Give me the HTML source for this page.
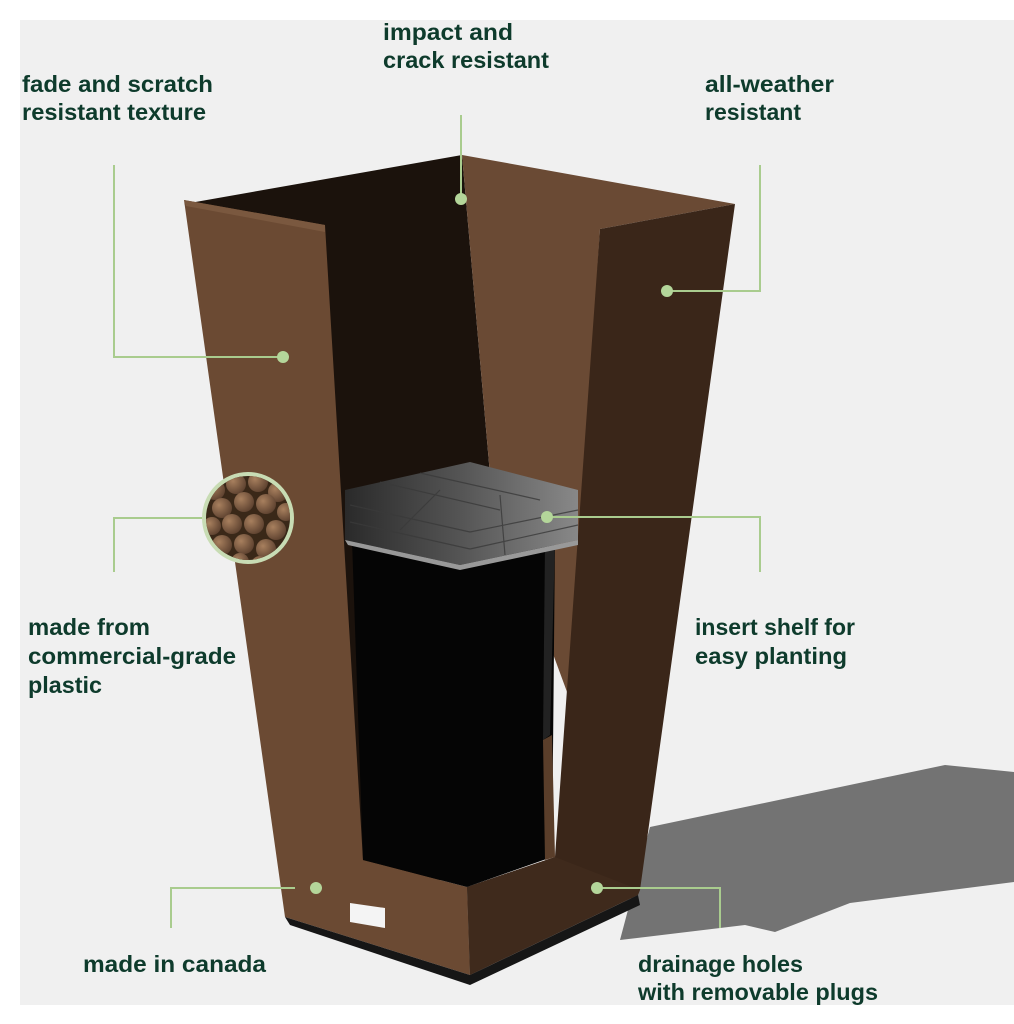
<!DOCTYPE html>
<html><head><meta charset="utf-8"><style>
html,body{margin:0;padding:0;background:#fff;}
svg{display:block}
text{font-family:"Liberation Sans",sans-serif;font-size:23px;fill:#0e3b2c;font-weight:bold;}
</style></head><body>
<svg width="1014" height="1024" viewBox="0 0 1014 1024" xmlns="http://www.w3.org/2000/svg">
<defs>
<radialGradient id="ball" cx="0.35" cy="0.35" r="0.7"><stop offset="0" stop-color="#a8805e"/><stop offset="1" stop-color="#5e4230"/></radialGradient>
<clipPath id="cc"><circle cx="248" cy="518" r="42"/></clipPath>
<linearGradient id="shelf" x1="0" y1="0" x2="1" y2="0"><stop offset="0" stop-color="#2a2a2a"/><stop offset="0.5" stop-color="#555"/><stop offset="1" stop-color="#888"/></linearGradient>
</defs>
<rect x="20" y="20" width="994" height="985" fill="#f0f0f0"/>
<polygon points="650,827 945,765 1014,772 1014,882 850,903 775,932 745,925 620,940" fill="#737373"/>
<polygon points="184,204 462,155 491,486 470,880 325,880 325,229" fill="#1b120c"/>
<polygon points="462,155 735,204 600,229 570,700 491,486" fill="#6a4a34"/>
<polygon points="184,200 325,225 363,860 467,887 470,975 285,917" fill="#6b4a33"/>
<polygon points="184,200 325,225 325,232 186,206" fill="#7a583f"/>
<polygon points="600,229 735,204 640,890 470,975 467,887 555,857" fill="#3a2619"/>
<polygon points="467,887 555,857 640,890 638,895 470,975" fill="#3f2a1c"/>
<polygon points="285,917 470,975 638,895 640,905 470,985 290,925" fill="#161616"/>
<polygon points="352,540 460,565 555,540 552,857 467,887 363,860" fill="#050505"/>
<polygon points="545,545 555,540 550,735 543,740" fill="#222"/>
<polygon points="543,740 552,735 555,857 545,860" fill="#5a3e2a"/>
<polygon points="345,490 470,462 578,490 578,540 460,565 345,540" fill="url(#shelf)"/>
<polygon points="345,540 460,565 578,540 578,545 460,570 348,545" fill="#999"/>
<g stroke="#3a3a3a" stroke-width="1.2" opacity="0.8">
<line x1="380" y1="482" x2="500" y2="510"/><line x1="420" y1="473" x2="540" y2="500"/>
<line x1="350" y1="505" x2="470" y2="532"/><line x1="350" y1="522" x2="470" y2="549"/>
<line x1="470" y1="532" x2="578" y2="510"/><line x1="470" y1="549" x2="578" y2="525"/>
<line x1="440" y1="490" x2="400" y2="530"/><line x1="500" y1="495" x2="505" y2="555"/>
</g>
<polygon points="350,903 385,908 385,928 350,922" fill="#f4f4f4"/>
<circle cx="248" cy="518" r="46" fill="#c8dcb4"/>
<circle cx="248" cy="518" r="42" fill="#3a2818"/>
<g clip-path="url(#cc)" fill="url(#ball)">
<circle cx="215" cy="490" r="10"/><circle cx="236" cy="484" r="10"/><circle cx="258" cy="482" r="10"/><circle cx="278" cy="492" r="10"/>
<circle cx="222" cy="508" r="10"/><circle cx="244" cy="502" r="10"/><circle cx="266" cy="504" r="10"/><circle cx="286" cy="512" r="9"/>
<circle cx="212" cy="526" r="9"/><circle cx="232" cy="524" r="10"/><circle cx="254" cy="524" r="10"/><circle cx="276" cy="530" r="10"/>
<circle cx="222" cy="545" r="10"/><circle cx="244" cy="544" r="10"/><circle cx="266" cy="549" r="10"/><circle cx="240" cy="562" r="9"/><circle cx="260" cy="565" r="9"/>
</g>
<g stroke="#a9cc8e" stroke-width="2" fill="none">
<polyline points="461,115 461,199"/>
<polyline points="114,165 114,357 283,357"/>
<polyline points="760,165 760,291 667,291"/>
<polyline points="114,572 114,518 202,518"/>
<polyline points="547,517 760,517 760,572"/>
<polyline points="295,888 171,888 171,928"/>
<polyline points="597,888 720,888 720,928"/>
</g>
<g fill="#b4d69a">
<circle cx="461" cy="199" r="6"/><circle cx="283" cy="357" r="6"/><circle cx="667" cy="291" r="6"/>
<circle cx="547" cy="517" r="6"/><circle cx="316" cy="888" r="6"/><circle cx="597" cy="888" r="6"/>
</g>
<g>
<text x="383" y="40" textLength="130" lengthAdjust="spacingAndGlyphs">impact and</text>
<text x="383" y="68" textLength="166" lengthAdjust="spacingAndGlyphs">crack resistant</text>
<text x="22" y="92" textLength="191" lengthAdjust="spacingAndGlyphs">fade and scratch</text>
<text x="22" y="120" textLength="184" lengthAdjust="spacingAndGlyphs">resistant texture</text>
<text x="705" y="92" textLength="129" lengthAdjust="spacingAndGlyphs">all-weather</text>
<text x="705" y="120" textLength="96" lengthAdjust="spacingAndGlyphs">resistant</text>
<text x="28" y="635" textLength="122" lengthAdjust="spacingAndGlyphs">made from</text>
<text x="28" y="664" textLength="208" lengthAdjust="spacingAndGlyphs">commercial-grade</text>
<text x="28" y="693" textLength="74" lengthAdjust="spacingAndGlyphs">plastic</text>
<text x="695" y="635" textLength="160" lengthAdjust="spacingAndGlyphs">insert shelf for</text>
<text x="695" y="664" textLength="152" lengthAdjust="spacingAndGlyphs">easy planting</text>
<text x="83" y="972" textLength="183" lengthAdjust="spacingAndGlyphs">made in canada</text>
<text x="638" y="972" textLength="165" lengthAdjust="spacingAndGlyphs">drainage holes</text>
<text x="638" y="1000" textLength="240" lengthAdjust="spacingAndGlyphs">with removable plugs</text>
</g>
</svg>
</body></html>
